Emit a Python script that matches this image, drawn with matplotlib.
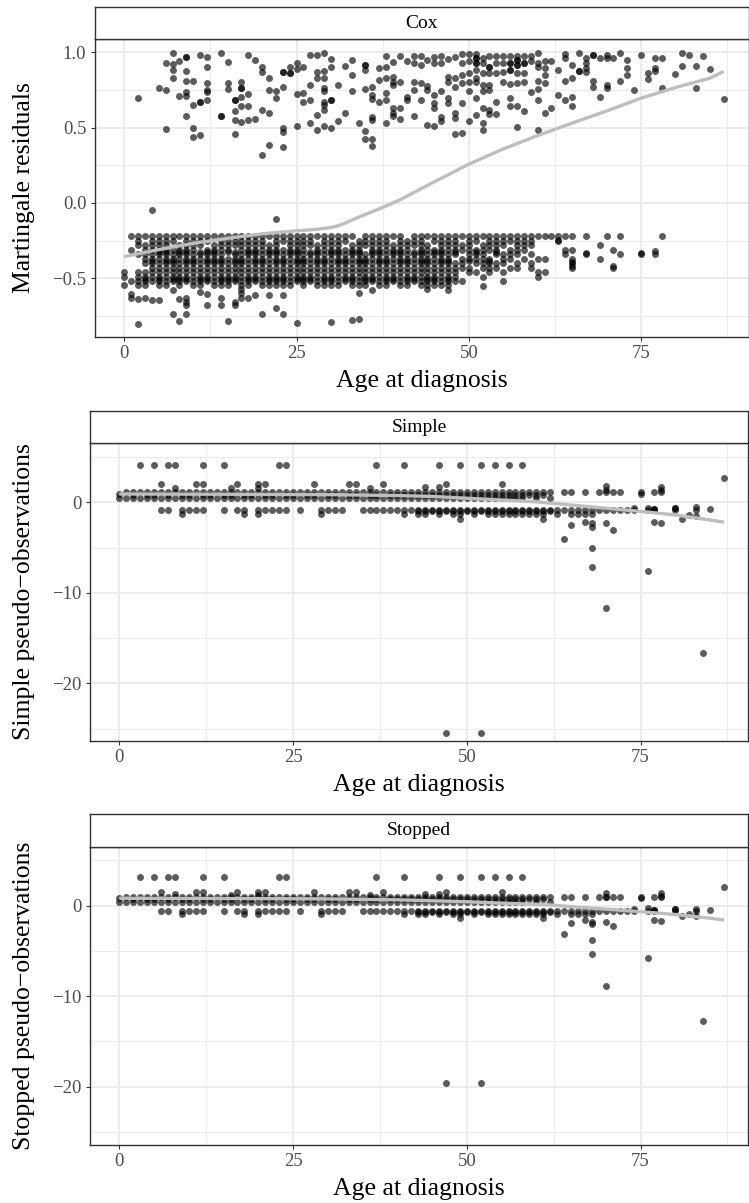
import matplotlib.pyplot as plt

plt.rcParams["font.family"] = ["Liberation Serif", "DejaVu Serif"]

# ---------------- Cox panel: martingale residuals ----------------
# upper band (events), (age, residual)
cox_upper = [
    (2, 0.695), (5, 0.76), (6, 0.928), (6, 0.75), (6, 0.489), (7, 0.994), (7, 0.92), (7, 0.883), (7, 0.83),
    (8, 0.945), (8, 0.71), (9, 0.967), (9, 0.967), (9, 0.876), (9, 0.81), (9, 0.735), (9, 0.71), (9, 0.58),
    (10, 0.807), (10, 0.65), (10, 0.5), (10, 0.44), (11, 0.98), (11, 0.673), (11, 0.673), (11, 0.45),
    (12, 0.967), (12, 0.9), (12, 0.795), (12, 0.75), (12, 0.735), (12, 0.68), (14, 0.994), (14, 0.58), (14, 0.58),
    (15, 0.937), (15, 0.795), (15, 0.755), (16, 0.685), (16, 0.685), (16, 0.613), (16, 0.55), (16, 0.46),
    (17, 0.8), (17, 0.766), (17, 0.766), (17, 0.706), (17, 0.64), (17, 0.535), (18, 0.98), (18, 0.72),
    (18, 0.64), (18, 0.55), (19, 0.95), (19, 0.557), (20, 0.905), (20, 0.868), (20, 0.62), (20, 0.318),
    (21, 0.83), (21, 0.75), (21, 0.595), (21, 0.383), (22, 0.74), (22, 0.695), (23, 0.87), (23, 0.87),
    (23, 0.77), (23, 0.5), (23, 0.47), (23, 0.373), (24, 0.905), (24, 0.86), (24, 0.86), (25, 0.93),
    (25, 0.89), (25, 0.72), (25, 0.513), (26, 0.9), (26, 0.727), (26, 0.668), (27, 0.98), (27, 0.78),
    (27, 0.68), (27, 0.528),
    (28, 0.98), (28, 0.867), (28, 0.827), (28, 0.584), (28, 0.484),
    (29, 0.993), (29, 0.878), (29, 0.827), (29, 0.76), (29, 0.74), (29, 0.673), (29, 0.65), (29, 0.617), (29, 0.51),
    (30, 0.956), (30, 0.905), (30, 0.684), (30, 0.684), (30, 0.5), (31, 0.783), (31, 0.546),
    (32, 0.912), (32, 0.6), (33, 0.95), (33, 0.85), (33, 0.74), (34, 0.528),
    (35, 0.916), (35, 0.916), (35, 0.883), (35, 0.754), (35, 0.48), (35, 0.425),
    (36, 0.772), (36, 0.717), (36, 0.688), (36, 0.573), (36, 0.551), (36, 0.422), (36, 0.378),
    (37, 0.894), (37, 0.816), (37, 0.673),
    (38, 0.978), (38, 0.905), (38, 0.827), (38, 0.732), (38, 0.684), (38, 0.528),
    (39, 0.938), (39, 0.838), (39, 0.805), (39, 0.783), (39, 0.628), (39, 0.6), (39, 0.577),
    (40, 0.978), (40, 0.805), (40, 0.633), (40, 0.555), (41, 0.945), (41, 0.706), (41, 0.684),
    (42, 0.976), (42, 0.932), (42, 0.805), (42, 0.75), (42, 0.577),
    (43, 0.978), (43, 0.916), (43, 0.794), (43, 0.684), (44, 0.95), (44, 0.776), (44, 0.75), (44, 0.518),
    (45, 0.967), (45, 0.927), (45, 0.717), (45, 0.662), (45, 0.628), (45, 0.511),
    (46, 0.978), (46, 0.927), (46, 0.74), (46, 0.573), (46, 0.544),
    (47, 0.956), (47, 0.838), (47, 0.805), (47, 0.695), (47, 0.666),
    (48, 0.967), (48, 0.827), (48, 0.772), (48, 0.595), (48, 0.562), (48, 0.458),
    (49, 0.989), (49, 0.927), (49, 0.85), (49, 0.794), (49, 0.666), (49, 0.462),
    (50, 0.989), (50, 0.945), (50, 0.86), (50, 0.805), (50, 0.74), (50, 0.544),
    (51, 0.989), (51, 0.96), (51, 0.96), (51, 0.927), (51, 0.927), (51, 0.883), (51, 0.827), (51, 0.805),
    (51, 0.695), (51, 0.584),
    (52, 0.96), (52, 0.927), (52, 0.86), (52, 0.783), (52, 0.74), (52, 0.628), (52, 0.528), (52, 0.484),
    (53, 0.978), (53, 0.905), (53, 0.905), (53, 0.86), (53, 0.783), (53, 0.75), (53, 0.617), (53, 0.59),
    (54, 0.978), (54, 0.927), (54, 0.86), (54, 0.673), (54, 0.59),
    (55, 0.978), (55, 0.927), (55, 0.867), (55, 0.805),
    (56, 0.978), (56, 0.927), (56, 0.927), (56, 0.883), (56, 0.883), (56, 0.79), (56, 0.695), (56, 0.64),
    (57, 0.978), (57, 0.95), (57, 0.95), (57, 0.916), (57, 0.916), (57, 0.86), (57, 0.794), (57, 0.64), (57, 0.502),
    (58, 0.978), (58, 0.927), (58, 0.927), (58, 0.86), (58, 0.805), (58, 0.61),
    (59, 0.978), (59, 0.943), (59, 0.735),
    (60, 0.994), (60, 0.932), (60, 0.905), (60, 0.806), (60, 0.755), (60, 0.68), (60, 0.485),
    (61, 0.939), (61, 0.894), (61, 0.85), (61, 0.795), (61, 0.596), (62, 0.939), (62, 0.629),
    (63, 0.883), (63, 0.717), (64, 0.987), (64, 0.961), (64, 0.81), (64, 0.684),
    (65, 0.916), (65, 0.828), (65, 0.706), (65, 0.644), (66, 0.994), (66, 0.877), (66, 0.877),
    (67, 0.961), (67, 0.927), (67, 0.894), (67, 0.872), (68, 0.983), (68, 0.983), (68, 0.806), (68, 0.772),
    (69, 0.961), (69, 0.706), (70, 0.983), (70, 0.961), (70, 0.783), (70, 0.761), (71, 0.961),
    (72, 0.994), (72, 0.806), (73, 0.95), (73, 0.894), (73, 0.85), (74, 0.75), (75, 0.983),
    (76, 0.861), (76, 0.821), (77, 0.965), (77, 0.894), (77, 0.878), (78, 0.965), (78, 0.766),
    (80, 0.857), (81, 0.998), (81, 0.91), (82, 0.983), (83, 0.91), (83, 0.766), (84, 0.972),
    (85, 0.888), (87, 0.688),
]

# lower band (censored): residual levels and the ages found on each level
cox_low_levels = [-0.217, -0.25, -0.28, -0.31, -0.325, -0.34, -0.37, -0.385, -0.40, -0.43, -0.46, -0.49,
                  -0.505, -0.52, -0.545]
cox_low_ages = [
    [1, 2, 3, 4, 5, 6, 7, 8, 9, 10, 11, 12, 13, 14, 15, 16, 17, 18, 19, 20, 21, 22, 23, 24, 25, 26, 27, 28,
     29, 30, 31, 32, 33, 35, 36, 37, 38, 39, 40, 42, 43, 44, 45, 46, 47, 48, 49, 50, 51, 52, 53, 54, 55, 56,
     57, 58, 59, 60, 61, 62, 63, 64, 65, 67, 70, 72, 78],
    [2, 4, 5, 6, 7, 9, 10, 11, 12, 14, 15, 16, 17, 18, 19, 20, 22, 23, 24, 25, 26, 27, 29, 30, 31, 32, 34,
     35, 36, 37, 38, 40, 41, 42, 43, 45, 46, 47, 48, 50, 51, 53, 54, 55, 56, 57, 58, 59, 63],
    [2, 3, 4, 5, 6, 8, 9, 10, 11, 13, 14, 15, 16, 17, 18, 19, 20, 21, 22, 24, 25, 26, 27, 28, 29, 30, 31,
     33, 34, 35, 36, 37, 38, 39, 40, 41, 42, 43, 44, 46, 47, 48, 49, 50, 52, 53, 54, 55, 57, 58, 59, 69],
    [1, 3, 4, 5, 6, 7, 8, 9, 10, 12, 13, 14, 15, 17, 18, 19, 20, 21, 22, 23, 24, 25, 26, 28, 29, 30, 31,
     32, 33, 34, 36, 37, 38, 39, 40, 41, 43, 44, 45, 46, 47, 48, 49, 50, 51, 52, 53, 54, 56, 57, 58, 64,
     65, 71],
    [5, 6, 8, 9, 11, 12, 13, 15, 16, 18, 19, 21, 22, 24, 25, 27, 28, 30, 31, 33, 34, 36, 37, 39, 40, 42, 43,
     45, 46, 48, 51, 54],
    [2, 3, 4, 5, 6, 7, 8, 9, 10, 11, 12, 13, 14, 16, 17, 18, 19, 20, 21, 22, 23, 24, 25, 26, 27, 28, 29,
     30, 31, 32, 33, 34, 35, 36, 37, 38, 39, 40, 41, 42, 43, 44, 45, 46, 47, 48, 50, 51, 52, 54, 55, 56,
     57, 59, 64, 67, 72, 75, 77],
    [3, 4, 5, 6, 7, 8, 9, 10, 11, 12, 13, 14, 15, 16, 17, 18, 19, 20, 21, 22, 23, 24, 25, 26, 27, 28, 29,
     30, 31, 32, 33, 34, 35, 36, 37, 38, 39, 40, 41, 42, 43, 44, 45, 46, 47, 49, 50, 51, 52, 53, 55, 56,
     58, 60, 61, 65, 69],
    [4, 6, 7, 9, 10, 12, 13, 14, 16, 17, 19, 20, 22, 23, 25, 26, 28, 29, 31, 32, 34, 35, 37, 38, 40, 41, 43,
     44, 46, 47, 50, 53],
    [3, 4, 5, 6, 7, 8, 9, 10, 11, 12, 13, 14, 15, 16, 17, 18, 19, 20, 21, 22, 23, 24, 25, 26, 27, 28, 29,
     30, 31, 32, 33, 34, 35, 36, 37, 38, 39, 40, 41, 42, 43, 44, 45, 46, 47, 48, 49, 51, 52, 53, 54, 55,
     57, 59, 65],
    [4, 5, 6, 7, 8, 9, 10, 11, 12, 13, 14, 15, 16, 17, 18, 19, 20, 21, 22, 23, 24, 25, 26, 27, 28, 29, 30,
     31, 32, 33, 34, 35, 36, 37, 38, 39, 40, 41, 42, 43, 44, 45, 46, 47, 48, 49, 50, 52, 53, 54, 56, 57,
     59, 65, 71],
    [0, 2, 3, 4, 5, 6, 7, 8, 9, 10, 11, 12, 13, 14, 15, 16, 17, 18, 19, 20, 21, 22, 23, 24, 25, 26, 27,
     28, 29, 30, 31, 32, 33, 34, 35, 36, 37, 38, 39, 40, 41, 42, 43, 44, 45, 46, 47, 48, 50, 51, 53, 55,
     60, 61],
    [0, 2, 3, 4, 5, 6, 7, 8, 9, 10, 11, 12, 13, 14, 15, 16, 17, 18, 19, 20, 21, 22, 23, 24, 25, 26, 27,
     28, 29, 30, 31, 32, 33, 34, 35, 36, 37, 38, 39, 40, 41, 42, 43, 44, 45, 46, 47, 48, 52, 60],
    [3, 5, 7, 8, 9, 11, 12, 14, 15, 16, 18, 19, 21, 22, 23, 25, 26, 27, 29, 30, 32, 33, 35, 36, 38, 39, 41,
     42, 44, 45, 47],
    [1, 2, 3, 4, 5, 6, 7, 8, 9, 10, 11, 12, 13, 14, 15, 16, 17, 18, 19, 20, 21, 22, 23, 24, 25, 26, 27,
     28, 29, 30, 31, 32, 33, 34, 35, 36, 37, 38, 39, 40, 41, 42, 43, 44, 45, 46, 47, 48, 49, 55],
    [0, 2, 3, 5, 6, 8, 10, 11, 13, 14, 15, 17, 18, 20, 21, 22, 23, 24, 26, 28, 29, 30, 31, 33, 34, 35, 37,
     38, 40, 41, 43, 44, 45, 46, 47],
]

# scattered residuals off the main bands
cox_low_extra = [
    (4, -0.045), (22, -0.106), (1, -0.604), (1, -0.633), (2, -0.804), (2, -0.64), (3, -0.63), (4, -0.645),
    (5, -0.644), (7, -0.578), (7, -0.737), (8, -0.784), (8, -0.64), (9, -0.633), (9, -0.66), (9, -0.68),
    (9, -0.737), (11, -0.593), (12, -0.605), (12, -0.677), (14, -0.633), (14, -0.677), (15, -0.784),
    (16, -0.66), (16, -0.677), (17, -0.57), (17, -0.6), (17, -0.63), (18, -0.633), (19, -0.61),
    (20, -0.737), (21, -0.61), (22, -0.695), (23, -0.61), (23, -0.737), (25, -0.8), (30, -0.79),
    (33, -0.78), (34, -0.77), (34, -0.6), (36, -0.58), (44, -0.57), (47, -0.58), (52, -0.55),
    (63, -0.246), (65, -0.39), (65, -0.42), (67, -0.334), (71, -0.418), (75, -0.33), (77, -0.316),
]

cox_fit_age = [0, 5, 10, 15, 20, 25, 28, 30, 31, 32, 33, 34, 36, 38, 40, 45, 50, 55, 60, 65, 70, 75, 80,
               85, 87]
cox_fit = [-0.356, -0.31, -0.268, -0.235, -0.205, -0.185, -0.175, -0.163, -0.152, -0.135, -0.115, -0.095,
           -0.058, -0.02, 0.02, 0.14, 0.257, 0.358, 0.447, 0.53, 0.61, 0.695, 0.766, 0.828, 0.872]

# ---------------- pseudo-observation panels ----------------
pseudo_top_ages = [3, 5, 7, 8, 12, 15, 23, 24, 37, 41, 46, 49, 52, 54, 56, 58]
pseudo_hi_ages = [1, 2, 3, 4, 5, 6, 7, 8, 9, 10, 11, 12, 13, 14, 15, 16, 17, 18, 19, 20, 21, 22, 23, 24, 25,
                  26, 27, 28, 29, 30, 31, 32, 33, 34, 35, 36, 37, 38, 39, 40, 41, 42, 43, 44, 45, 46, 47, 48,
                  49, 50, 51, 52, 53, 54, 55, 56, 57, 58, 59, 60, 61, 62, 64, 65, 67, 69, 70, 71, 72, 75, 77, 78]
pseudo_hi2_ages = [2, 4, 5, 7, 9, 10, 12, 13, 15, 16, 18, 19, 21, 22, 24, 25, 27, 28, 30, 31, 33, 34, 36, 37,
                   39, 40, 41, 42, 43, 44, 45, 46, 47, 48, 49, 50, 51, 52, 53, 54, 55, 56, 57, 58, 59, 60, 61]
pseudo_mid_ages = [0, 1, 2, 3, 4, 5, 6, 7, 8, 9, 10, 11, 12, 13, 14, 15, 16, 17, 18, 19, 20, 21, 22, 23, 24,
                   25, 26, 27, 28, 29, 30, 31, 32, 33, 34, 35, 36, 37, 38, 39, 40, 41, 42, 43, 44, 45, 46, 47,
                   48, 49, 50, 51, 52, 53, 54, 55, 56, 57, 58, 60, 62]
pseudo_lo_ages = [6, 7, 9, 10, 11, 12, 15, 17, 18, 20, 21, 22, 23, 24, 26, 29, 30, 31, 32, 35, 36, 37, 38, 39,
                  40, 41, 42, 43, 44, 45, 46, 47, 48, 49, 50, 51, 52, 53, 54, 55, 56, 57, 58, 59, 60, 61, 62,
                  63, 64, 65, 66, 67, 68, 69, 70, 71, 72, 73, 74, 76, 77, 80, 83]
pseudo_lo2_ages = [9, 18, 20, 29, 41, 43, 44, 46, 48, 49, 51, 53, 54, 55, 56, 57, 58, 59, 60, 61, 63, 65, 66,
                   67, 68]
pseudo_lo3_ages = [43, 44, 45, 46, 47, 48, 49, 50, 51, 52, 53, 54, 55, 56, 57, 58, 59, 60, 61, 62]

simple_levels = [4.12, 1.1, 0.8, 0.5, -0.85, -1.3, -1.0]
stopped_levels = [3.21, 0.95, 0.7, 0.45, -0.62, -0.95, -0.75]

simple_extra = [
    (6, 1.99), (8, 1.62), (11, 1.99), (12, 1.99), (16, 1.55), (17, 1.99), (20, 1.99), (20, 1.55), (21, 1.99),
    (28, 1.99), (33, 1.99), (34, 1.99), (36, 1.55), (38, 1.99), (44, 1.65), (46, 1.65), (47, 1.99),
    (55, 1.99), (70, 1.84), (70, 1.36), (78, 1.73), (78, 1.36), (87, 2.72), (0, 0.9),
    (47, -25.5), (52, -25.5), (84, -16.65), (70, -11.65), (76, -7.55), (68, -7.1), (68, -5.0),
    (64, -4.1), (71, -3.06), (68, -2.7), (68, -2.3), (65, -2.5), (67, -2.14), (70, -2.3), (61, -1.88),
    (49, -1.84), (77, -2.14), (78, -2.25), (81, -1.84), (82, -1.4), (83, -1.48), (74, -0.59), (76, -0.59),
    (77, -0.74), (77, -0.74), (80, -0.59), (80, -0.59), (83, -0.48), (85, -0.74), (75, 0.95),
]
stopped_extra = [
    (6, 1.55), (8, 1.29), (11, 1.55), (12, 1.55), (16, 1.22), (17, 1.55), (20, 1.55), (20, 1.22), (21, 1.55),
    (28, 1.55), (33, 1.55), (34, 1.55), (36, 1.22), (38, 1.55), (44, 1.3), (46, 1.3), (47, 1.55),
    (55, 1.55), (70, 1.44), (70, 1.0), (78, 1.44), (78, 1.05), (87, 2.1), (0, 0.81),
    (47, -19.56), (52, -19.56), (84, -12.7), (70, -8.88), (76, -5.75), (68, -5.38), (68, -3.8),
    (64, -3.13), (71, -2.25), (68, -2.03), (68, -1.77), (65, -1.88), (67, -1.58), (70, -1.77), (61, -1.4),
    (49, -1.35), (77, -1.58), (78, -1.7), (81, -1.14), (82, -0.95), (83, -1.14), (74, -0.4), (76, -0.22),
    (77, -0.48), (77, -0.48), (80, -0.41), (80, -0.41), (83, -0.41), (85, -0.48), (75, 0.81),
]

simple_fit_age = [0, 10, 20, 30, 40, 45, 50, 55, 60, 65, 70, 75, 80, 85, 87]
simple_fit = [0.92, 0.9, 0.88, 0.85, 0.75, 0.65, 0.45, 0.25, 0.05, -0.3, -0.65, -1.0, -1.4, -1.95, -2.2]
stopped_fit_age = [0, 10, 20, 30, 40, 50, 55, 60, 62, 65, 70, 75, 80, 85, 87]
stopped_fit = [0.82, 0.8, 0.78, 0.75, 0.65, 0.44, 0.28, 0.15, 0.08, -0.1, -0.38, -0.66, -0.98, -1.38, -1.58]

# ---------------- drawing ----------------
W, H = 749, 1203
fig = plt.figure(figsize=(W / 100, H / 100), dpi=100)


def box(l, t, r, b):
    return [l / W, 1 - b / H, (r - l) / W, (b - t) / H]


def points(levels, age_rows, extra):
    xs, ys = [], []
    for lev, ages in zip(levels, age_rows):
        xs += list(ages)
        ys += [lev] * len(ages)
    for a, v in extra:
        xs.append(a)
        ys.append(v)
    return xs, ys


def panel(l, ts, t, b, r, strip, xlim, ylim, yticks, yminor, ylabel, xs, ys, fx, fy):
    ax = fig.add_axes(box(l, t, r, b))
    ax.scatter(xs, ys, s=25, c="black", alpha=0.64, linewidths=0, zorder=3)
    ax.plot(fx, fy, color="#BEBEBE", lw=2.4, zorder=4, solid_capstyle="butt")
    ax.set_xlim(xlim)
    ax.set_ylim(ylim)
    ax.set_xticks([0, 25, 50, 75])
    ax.set_xticks([12.5, 37.5, 62.5, 87.5], minor=True)
    ax.set_yticks(yticks)
    ax.set_yticks(yminor, minor=True)
    ax.grid(which="major", color="#EBEBEB", lw=1.3)
    ax.grid(which="minor", color="#EBEBEB", lw=0.65)
    ax.set_axisbelow(True)
    ax.tick_params(which="major", length=3, width=0.8, color="#333333", labelsize=13.5,
                   labelcolor="#4D4D4D", pad=3)
    ax.tick_params(which="minor", length=0)
    for sp in ax.spines.values():
        sp.set_color("#333333")
        sp.set_linewidth(1.0)

    sax = fig.add_axes(box(l, ts, r, t))
    sax.set_xticks([])
    sax.set_yticks([])
    for sp in sax.spines.values():
        sp.set_color("#333333")
        sp.set_linewidth(1.0)
    sax.text(0.5, 0.5, strip, ha="center", va="center", fontsize=14, transform=sax.transAxes)

    fig.text(24 / W, 1 - (t + b) / 2 / H, ylabel, rotation=90, ha="center", va="center", fontsize=18.5)
    fig.text((l + r) / 2 / W, 1 - (b + 50) / H, "Age at diagnosis", ha="center", va="baseline",
             fontsize=18.5)
    return ax


cx, cy = points(cox_low_levels, cox_low_ages, cox_upper + cox_low_extra)
panel(94.7, 6.7, 39.3, 336.7, 748.5, "Cox", (-4.3, 90.6), (-0.888, 1.086),
      [-0.5, 0.0, 0.5, 1.0], [-0.75, -0.25, 0.25, 0.75], "Martingale residuals",
      cx, cy, cox_fit_age, cox_fit)

pseudo_rows = [pseudo_top_ages, pseudo_hi_ages, pseudo_hi2_ages, pseudo_mid_ages, pseudo_lo_ages,
               pseudo_lo2_ages, pseudo_lo3_ages]

sx, sy = points(simple_levels, pseudo_rows, simple_extra)
panel(89.7, 410.7, 443.3, 740.7, 748.5, "Simple", (-4.26, 90.53), (-26.34, 6.52),
      [-20, -10, 0], [-25, -15, -5, 5], "Simple pseudo\u2212observations",
      sx, sy, simple_fit_age, simple_fit)

tx, ty = points(stopped_levels, pseudo_rows, stopped_extra)
panel(89.7, 814.3, 847.3, 1144.7, 748.5, "Stopped", (-4.26, 90.53), (-26.4, 6.45),
      [-20, -10, 0], [-25, -15, -5, 5], "Stopped pseudo\u2212observations",
      tx, ty, stopped_fit_age, stopped_fit)

fig.savefig("out.png", dpi=100)
